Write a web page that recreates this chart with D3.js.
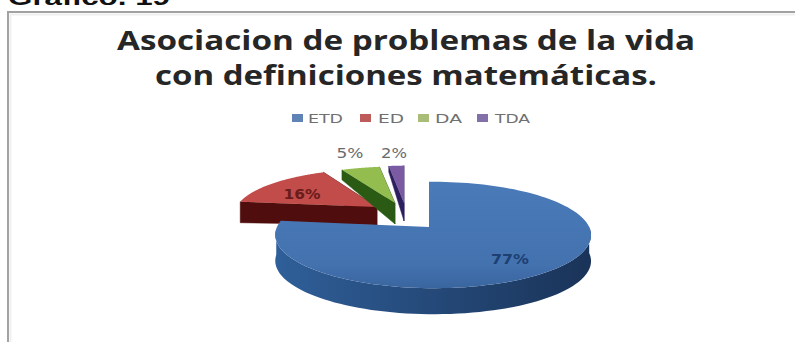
<!DOCTYPE html>
<html>
<head>
<meta charset="utf-8">
<script src="https://d3js.org/d3.v7.min.js"></script>
<style>
html,body{margin:0;padding:0;background:#fff;overflow:hidden}
svg{display:block}
</style>
</head>
<body>
<svg id="chart" width="795" height="342"></svg>
<script>
// Chart content
const heading = "Gráfico. 19";
const titleLines = ["Asociacion de problemas de la vida", "con definiciones matemáticas."];
const categories = ["ETD", "ED", "DA", "TDA"];
const percentages = [77, 16, 5, 2];

// Slice colours
const topColors = ["#4675b3", "#c24c4a", "#93bd4f", "#7a5ba3"];
const wallLight = ["#2f5f99", "#6e1412", "#2f6a17", "#4a2f78"];
const wallDark = ["#1a3358", "#4f0e0d", "#2a5a14", "#2c1f5e"];
const legendColors = ["#5f83b5", "#bd5a5a", "#a9bc78", "#8470a8"];
const labelColors = ["#1d3f72", "#6a1b1a", "#6a6a6a", "#6a6a6a"];

// Where each exploded wedge's apex sits, how large its disc is, and how deep its walls run
const sliceLayout = [
  {ax: 429, ay: 227, rx: 156, ry: 52, rimDepth: 26, apexDepth: 24},
  {ax: 377, ay: 207, rx: 144, ry: 44, rimDepth: 21, apexDepth: 18},
  {ax: 395, ay: 203, rx: 143, ry: 42, rimDepth: 10, apexDepth: 21},
  {ax: 404, ay: 203, rx: 140, ry: 43, rimDepth: 6, apexDepth: 18}
];
const labelAt = [[510, 259, 38], [302, 194, 37], [350, 153, 27], [394, 153, 26]];
const legendAt = [[292, 308, 35], [360, 378, 26], [418, 435, 27], [477, 495, 35]];

const svg = d3.select("#chart");

// Frame around the chart area, open towards the bottom
const frame = d3.path();
frame.moveTo(8, 342); frame.lineTo(8, 12); frame.lineTo(795, 12);
const innerFrame = d3.path();
innerFrame.moveTo(10.5, 342); innerFrame.lineTo(10.5, 14.5); innerFrame.lineTo(795, 14.5);
svg.append("path").attr("d", innerFrame.toString()).attr("fill", "none").attr("stroke", "#efefef").attr("stroke-width", 2);
svg.append("path").attr("d", frame.toString()).attr("fill", "none").attr("stroke", "#a2a2a2").attr("stroke-width", 2);

svg.append("text").attr("x", 8).attr("y", 5)
  .attr("font-family", "Liberation Sans").attr("font-weight", 700).attr("font-size", 22)
  .attr("textLength", 162).attr("lengthAdjust", "spacingAndGlyphs").attr("fill", "#111").text(heading);

const titleFit = [[117, 578, 50], [155, 502, 85]];
titleLines.forEach((line, i) => {
  svg.append("text").attr("x", titleFit[i][0]).attr("y", titleFit[i][2])
    .attr("font-family", "Open Sans").attr("font-weight", 700).attr("font-size", 26)
    .attr("textLength", titleFit[i][1]).attr("lengthAdjust", "spacingAndGlyphs")
    .attr("fill", "#262626").text(line);
});

// Legend
categories.forEach((name, i) => {
  const [sx, tx, tw] = legendAt[i];
  svg.append("rect").attr("x", sx).attr("y", 114).attr("width", 11).attr("height", 8).attr("fill", legendColors[i]);
  svg.append("text").attr("x", tx).attr("y", 123)
    .attr("font-family", "DejaVu Sans").attr("font-size", 12)
    .attr("textLength", tw).attr("lengthAdjust", "spacingAndGlyphs")
    .attr("fill", "#707070").text(name);
});

// Pie angles from the data, clockwise from twelve o'clock
const arcs = d3.pie().sort(null)(percentages);

// Perspective projection of the pie's unit disc onto the screen
const tiltK = 0.15, skewJ = -0.026;
function project(layout, r, angle) {
  const u = r * Math.sin(angle), v = r * Math.cos(angle);
  const w = 1 + tiltK * v + skewJ * u;
  return [layout.ax + layout.rx * u / w, layout.ay - layout.ry * v / w];
}
const rimAngles = (a0, a1) => d3.range(0, 121).map(i => d3.interpolateNumber(a0, a1)(i / 120));
const line = d3.line();

const defs = svg.append("defs");
// Horizontal shading on the curved walls
arcs.forEach((a, i) => {
  const g = defs.append("linearGradient").attr("id", "wall" + i);
  g.append("stop").attr("offset", "0%").attr("stop-color", wallLight[i]);
  g.append("stop").attr("offset", "100%").attr("stop-color", wallDark[i]);
});
// Subtle darkening of the blue face towards its front rim
const faceGrad = defs.append("linearGradient").attr("id", "face0").attr("x1", 0).attr("y1", 0).attr("x2", 0).attr("y2", 1);
faceGrad.append("stop").attr("offset", "0%").attr("stop-color", "#4a7ab8");
faceGrad.append("stop").attr("offset", "78%").attr("stop-color", "#4372af");
faceGrad.append("stop").attr("offset", "100%").attr("stop-color", "#3a659f");

function drawSlice(i) {
  const a = arcs[i], L = sliceLayout[i];
  const g = svg.append("g");
  const angles = rimAngles(a.startAngle, a.endAngle);
  const rim = angles.map(t => project(L, 1, t));
  const apex = [L.ax, L.ay];
  const drop = (p, d) => [p[0], p[1] + d];

  // Straight cut walls that face the viewer: the blue wedge's cuts face away
  if (i !== 0) {
    [rim[0], rim[rim.length - 1]].forEach(edge => {
      g.append("path")
        .attr("d", line([apex, edge, drop(edge, L.rimDepth), drop(apex, L.apexDepth)]) + "Z")
        .attr("fill", wallDark[i]).attr("stroke", wallDark[i]).attr("stroke-width", .5);
    });
  }
  // Curved outer wall, only along the front half of the rim
  const front = angles.filter(t => Math.cos(t) <= 0).map(t => project(L, 1, t));
  if (front.length > 1) {
    g.append("path")
      .attr("d", line(front.concat(front.map(p => drop(p, L.rimDepth)).reverse())) + "Z")
      .attr("fill", `url(#wall${i})`);
  }
  // Top face
  g.append("path")
    .attr("d", line([apex].concat(rim)) + "Z")
    .attr("fill", i === 0 ? "url(#face0)" : topColors[i]);
}

// Back wedges first, the large blue wedge overlaps them
[1, 2, 3, 0].forEach(drawSlice);

// Percentage labels
percentages.forEach((value, i) => {
  svg.append("text").attr("x", labelAt[i][0] - labelAt[i][2] / 2).attr("y", labelAt[i][1]).attr("dy", "0.35em")
    .attr("font-family", "DejaVu Sans").attr("font-size", 13.5)
    .attr("font-weight", i < 2 ? 700 : 400)
    .attr("textLength", labelAt[i][2]).attr("lengthAdjust", "spacingAndGlyphs")
    .attr("fill", labelColors[i]).text(value + "%");
});
</script>
</body>
</html>
